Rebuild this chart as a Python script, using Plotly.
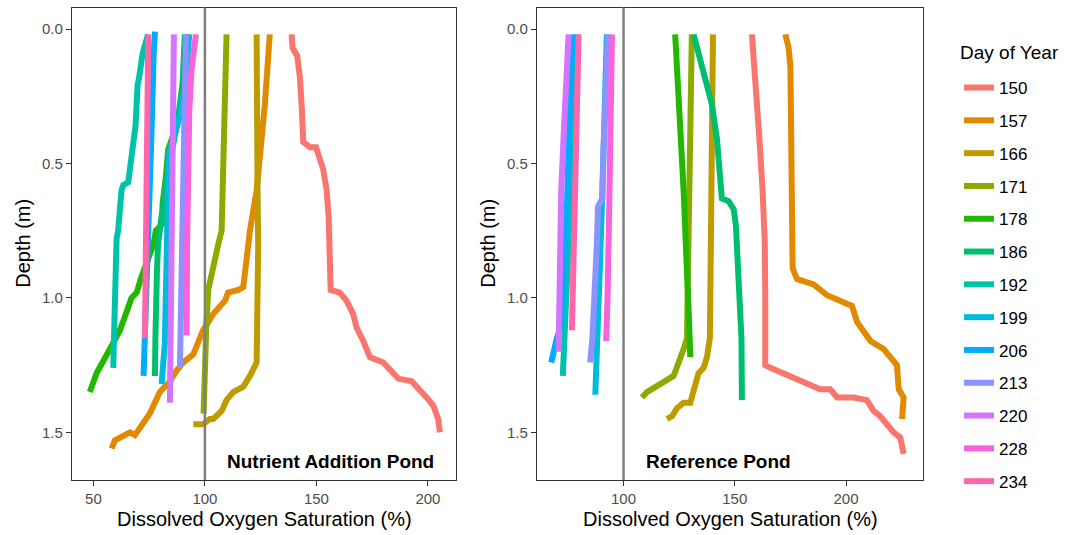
import plotly.graph_objects as go

# Day-of-year labels and their ggplot-style hue colours
days = [150, 157, 166, 171, 178, 186, 192, 199, 206, 213, 220, 228, 234]
day_colors = ["#F8766D", "#E18A00", "#BE9C00", "#8CAB00", "#24B700", "#00BE70",
              "#00C1AB", "#00BBDA", "#00ACFC", "#8B93FF", "#D575FE", "#F962DD", "#FF65AC"]

# Nutrient addition pond profiles: (DO saturation %, depth m)
nap_150 = [(138.9, 0.02), (139.3, 0.07), (141.4, 0.10), (142.6, 0.18), (143.5, 0.30), (144.1, 0.42),
           (147.1, 0.44), (149.8, 0.44), (153.0, 0.52), (154.6, 0.60), (155.5, 0.70), (156.0, 0.80),
           (156.4, 0.97), (160.5, 0.98), (163.5, 1.01), (166.5, 1.06), (168.0, 1.11), (171.0, 1.16),
           (174.0, 1.22), (180.0, 1.24), (183.7, 1.27), (186.7, 1.30), (192.7, 1.31), (196.4, 1.34),
           (199.4, 1.37), (202.4, 1.40), (204.6, 1.45), (205.4, 1.50)]
nap_157 = [(129.1, 0.02), (128.8, 0.07), (126.9, 0.28), (124.7, 0.47), (123.2, 0.60), (120.2, 0.75),
           (118.7, 0.86), (117.2, 0.96), (115.0, 0.97), (110.4, 0.98), (109.0, 1.01), (106.7, 1.03),
           (103.7, 1.06), (99.2, 1.12), (96.3, 1.18), (94.8, 1.21), (90.3, 1.24), (87.3, 1.27),
           (84.3, 1.31), (79.8, 1.35), (75.3, 1.43), (70.9, 1.48), (68.6, 1.51), (66.4, 1.50),
           (61.9, 1.52), (59.6, 1.53), (58.2, 1.56)]
nap_166 = [(123.2, 0.02), (123.2, 0.30), (123.6, 0.60), (123.9, 0.80), (123.5, 1.00), (123.2, 1.24),
           (120.2, 1.29), (117.2, 1.33), (112.7, 1.35), (109.7, 1.38), (107.5, 1.42), (103.7, 1.45),
           (102.2, 1.45), (99.2, 1.47), (94.8, 1.47)]
nap_171 = [(109.7, 0.02), (109.0, 0.28), (108.2, 0.53), (107.5, 0.75), (106.0, 0.80), (103.7, 0.88),
           (101.5, 0.97), (100.7, 1.09), (100.0, 1.28), (99.4, 1.43)]
nap_178 = [(92.5, 0.02), (91.5, 0.15), (90.0, 0.25), (88.0, 0.33), (85.5, 0.40), (83.5, 0.45),
           (82.5, 0.55), (81.0, 0.65), (81.5, 0.72), (78.0, 0.75), (77.0, 0.80), (74.0, 0.86),
           (71.6, 0.92), (69.4, 0.98), (67.1, 1.00), (64.1, 1.07), (61.9, 1.12), (57.4, 1.19),
           (54.4, 1.23), (51.4, 1.28), (48.4, 1.35)]
nap_186 = [(91.0, 0.02), (90.0, 0.20), (88.0, 0.33), (86.0, 0.42), (84.0, 0.50), (82.0, 0.60),
           (80.5, 0.70), (79.0, 0.80), (78.5, 0.90), (78.0, 1.00), (77.8, 1.15), (77.6, 1.29)]
nap_192 = [(74.5, 0.02), (73.0, 0.06), (72.1, 0.09), (70.5, 0.18), (69.8, 0.21), (68.9, 0.36),
           (67.1, 0.47), (65.6, 0.57), (63.4, 0.58), (62.6, 0.60), (61.1, 0.75), (60.4, 0.78),
           (59.6, 1.03), (58.9, 1.26)]
nap_199 = [(93.0, 0.02), (92.0, 0.12), (91.0, 0.22), (89.0, 0.32), (86.0, 0.40), (84.0, 0.46),
           (83.5, 0.60), (83.0, 0.80), (82.6, 1.00), (82.0, 1.17), (80.6, 1.32)]
nap_206 = [(77.6, 0.01), (77.0, 0.10), (76.0, 0.40), (75.0, 0.70), (74.0, 1.00), (73.0, 1.15),
           (72.5, 1.29)]
nap_213 = [(91.5, 0.02), (91.0, 0.30), (90.5, 0.60), (89.5, 0.90), (89.0, 1.10), (88.8, 1.26)]
nap_220 = [(86.1, 0.02), (85.5, 0.40), (85.0, 0.80), (84.5, 1.20), (84.3, 1.39)]
nap_228 = [(96.0, 0.02), (95.0, 0.07), (94.0, 0.15), (93.0, 0.30), (92.5, 0.50), (92.0, 0.80),
           (91.8, 1.14)]
nap_234 = [(74.6, 0.02), (74.2, 0.40), (73.6, 0.80), (73.1, 1.15)]

# Reference pond profiles: (DO saturation %, depth m)
ref_150 = [(157.7, 0.02), (159.5, 0.20), (161.0, 0.40), (162.5, 0.60), (163.5, 0.80), (163.7, 1.00),
           (163.7, 1.25), (166.0, 1.26), (169.0, 1.27), (175.0, 1.29), (182.5, 1.32), (188.4, 1.34),
           (192.9, 1.34), (196.0, 1.37), (203.4, 1.37), (209.4, 1.38), (212.4, 1.42), (215.4, 1.44),
           (218.4, 1.47), (221.4, 1.50), (224.4, 1.52), (225.9, 1.58)]
ref_157 = [(172.7, 0.02), (174.2, 0.07), (175.0, 0.14), (175.7, 0.53), (176.0, 0.89), (178.0, 0.93),
           (185.4, 0.95), (191.5, 0.99), (197.4, 1.01), (202.7, 1.03), (205.0, 1.09), (211.0, 1.16),
           (216.9, 1.19), (219.9, 1.22), (222.9, 1.25), (223.7, 1.34), (225.9, 1.37), (225.2, 1.45)]
ref_166 = [(140.2, 0.02), (139.8, 0.30), (139.4, 0.70), (139.0, 1.00), (138.8, 1.15), (137.5, 1.22),
           (136.0, 1.26), (133.7, 1.28), (132.8, 1.31), (132.2, 1.33), (131.0, 1.36), (130.0, 1.39),
           (127.0, 1.39), (124.0, 1.41), (121.8, 1.44), (119.5, 1.45)]
ref_171 = [(130.7, 0.02), (130.0, 0.30), (129.3, 0.60), (128.8, 0.90), (128.5, 1.15), (127.0, 1.19),
           (125.5, 1.22), (124.7, 1.24), (123.5, 1.27), (122.5, 1.29), (120.5, 1.30), (118.7, 1.31),
           (115.0, 1.33), (113.0, 1.34), (110.5, 1.35), (108.3, 1.37)]
ref_178 = [(123.2, 0.02), (124.5, 0.20), (125.5, 0.30), (127.0, 0.60), (128.0, 0.80), (129.0, 0.95),
           (129.5, 1.10), (130.0, 1.22)]
ref_186 = [(131.5, 0.02), (133.0, 0.07), (136.0, 0.16), (139.7, 0.28), (142.0, 0.41), (143.5, 0.55),
           (144.2, 0.63), (147.2, 0.64), (149.5, 0.67), (150.5, 0.73), (151.0, 0.80), (152.0, 1.00),
           (153.0, 1.15), (153.2, 1.38)]
ref_192 = [(79.0, 0.02), (78.0, 0.30), (76.5, 0.60), (75.0, 0.85), (74.0, 1.10), (73.5, 1.20),
           (72.7, 1.29)]
ref_199 = [(92.5, 0.02), (92.0, 0.20), (91.0, 0.45), (90.3, 0.65), (89.5, 0.85), (88.8, 1.03),
           (88.0, 1.20), (87.3, 1.36)]
ref_206 = [(77.5, 0.02), (76.0, 0.22), (74.5, 0.68), (73.0, 0.95), (72.0, 1.10), (70.0, 1.15),
           (69.0, 1.18), (68.0, 1.22), (67.5, 1.24)]
ref_213 = [(93.0, 0.02), (92.0, 0.20), (91.0, 0.45), (90.5, 0.63), (88.5, 0.66), (88.0, 0.80),
           (87.0, 1.00), (86.0, 1.15), (85.0, 1.24)]
ref_220 = [(75.3, 0.02), (74.5, 0.20), (73.0, 0.41), (72.0, 0.60), (71.5, 0.78), (71.0, 1.00),
           (70.8, 1.20)]
ref_228 = [(94.8, 0.02), (94.5, 0.30), (93.5, 0.70), (92.8, 1.00), (92.2, 1.16)]
ref_234 = [(79.8, 0.02), (79.0, 0.30), (78.0, 0.60), (77.5, 0.80), (77.0, 1.00), (76.8, 1.12)]

nap_profiles = [nap_150, nap_157, nap_166, nap_171, nap_178, nap_186, nap_192,
                nap_199, nap_206, nap_213, nap_220, nap_228, nap_234]
ref_profiles = [ref_150, ref_157, ref_166, ref_171, ref_178, ref_186, ref_192,
                ref_199, ref_206, ref_213, ref_220, ref_228, ref_234]

depth_ticks = [0.0, 0.5, 1.0, 1.5]
nap_x_ticks = [50, 100, 150, 200]
ref_x_ticks = [100, 150, 200]
saturation_line = 100

FONT = "Liberation Sans, Arial, sans-serif"
W, H = 1073, 535
LINE_W = 6

fig = go.Figure()

for day, color, prof in zip(days, day_colors, nap_profiles):
    fig.add_trace(go.Scatter(
        x=[p[0] for p in prof], y=[p[1] for p in prof], mode="lines",
        line=dict(color=color, width=LINE_W), name=str(day), legendgroup=str(day),
        showlegend=True, xaxis="x", yaxis="y"))

for day, color, prof in zip(days, day_colors, ref_profiles):
    fig.add_trace(go.Scatter(
        x=[p[0] for p in prof], y=[p[1] for p in prof], mode="lines",
        line=dict(color=color, width=LINE_W), name=str(day), legendgroup=str(day),
        showlegend=False, xaxis="x2", yaxis="y2"))

# panel geometry in pixels
L1, R1 = 72, 456
L2, R2 = 537, 923
TOP, BOT = 7.5, 480
ydom = [1 - BOT / H, 1 - TOP / H]

axis_common = dict(showgrid=False, zeroline=False, showline=True, mirror=True,
                   linecolor="#333333", linewidth=1.2, ticks="outside", ticklen=5,
                   tickcolor="#333333", tickwidth=1.2,
                   tickfont=dict(family=FONT, size=15, color="#4D4D4D"))

fig.update_layout(
    width=W, height=H, margin=dict(l=0, r=0, t=0, b=0),
    plot_bgcolor="white", paper_bgcolor="white",
    xaxis=dict(domain=[L1 / W, R1 / W], range=[40.4, 212.6], tickvals=nap_x_ticks,
               anchor="y", **axis_common),
    yaxis=dict(domain=ydom, range=[1.677, -0.08], tickvals=depth_ticks, tickformat=".1f",
               anchor="x", **axis_common),
    xaxis2=dict(domain=[L2 / W, R2 / W], range=[61.1, 234.6], tickvals=ref_x_ticks,
                anchor="y2", **axis_common),
    yaxis2=dict(domain=ydom, range=[1.677, -0.08], tickvals=depth_ticks, tickformat=".1f",
                anchor="x2", **axis_common),
    legend=dict(x=959 / W, y=1 - 70 / H, xanchor="left", yanchor="top",
                font=dict(family=FONT, size=17, color="black"),
                tracegroupgap=7.7, itemwidth=30, bgcolor="rgba(0,0,0,0)"),
)

# legend heading
fig.add_annotation(x=958 / W, y=1 - 52 / H, xref="paper", yref="paper", text="Day of Year",
                   showarrow=False, xanchor="left", yanchor="middle",
                   font=dict(family=FONT, size=19, color="black"))

# 100 % saturation reference lines
for xr, yr in (("x", "y"), ("x2", "y2")):
    fig.add_shape(type="line", xref=xr, yref=yr + " domain", x0=saturation_line,
                  x1=saturation_line, y0=0, y1=1, layer="above",
                  line=dict(color="#7F7F7F", width=2.5))

# panel labels
fig.add_annotation(x=109, y=1.61, xref="x", yref="y", text="<b>Nutrient Addition Pond</b>",
                   showarrow=False, xanchor="left", yanchor="middle",
                   font=dict(family=FONT, size=19, color="black"))
fig.add_annotation(x=109, y=1.61, xref="x2", yref="y2", text="<b>Reference Pond</b>",
                   showarrow=False, xanchor="left", yanchor="middle",
                   font=dict(family=FONT, size=19, color="black"))

# axis titles
for cx in ((L1 + R1) / 2, (L2 + R2) / 2):
    fig.add_annotation(x=cx / W, y=1 - 519 / H, xref="paper", yref="paper",
                       text="Dissolved Oxygen Saturation (%)", showarrow=False,
                       xanchor="center", yanchor="middle",
                       font=dict(family=FONT, size=20, color="black"))
for cx in (23, 488):
    fig.add_annotation(x=cx / W, y=1 - (TOP + BOT) / 2 / H, xref="paper", yref="paper",
                       text="Depth (m)", textangle=-90, showarrow=False,
                       xanchor="center", yanchor="middle",
                       font=dict(family=FONT, size=20, color="black"))

fig.write_html("out.html")
